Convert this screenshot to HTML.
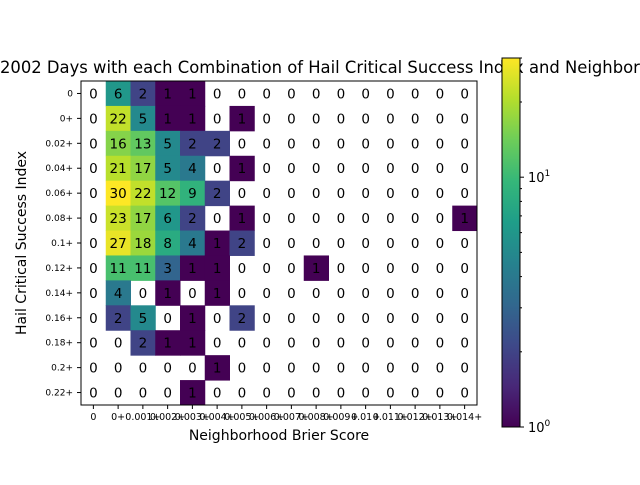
<!DOCTYPE html>
<html><head><meta charset="utf-8"><style>
html,body{margin:0;padding:0;background:#fff;overflow:hidden}
svg{font-family:"DejaVu Sans","Liberation Sans",sans-serif}
</style></head><body>
<svg id="chart" width="640" height="480" viewBox="0 0 640 480" xmlns="http://www.w3.org/2000/svg">
<text x="0" y="73" font-size="16.4" text-anchor="start">2002 Days with each Combination of Hail Critical Success Index and Neighborhood Brier Score</text>
<g id="cells"></g>
<g id="labels"></g>
<rect x="81" y="81" width="396" height="324" fill="none" stroke="#000" stroke-width="1"/>
<g id="xticks"></g>
<g id="yticks"></g>
<text x="279" y="440" font-size="14" text-anchor="middle">Neighborhood Brier Score</text>
<text transform="translate(26,243) rotate(-90)" font-size="14" text-anchor="middle">Hail Critical Success Index</text>
<defs><linearGradient id="vir" x1="0" y1="1" x2="0" y2="0"></linearGradient></defs>
<rect x="502" y="58" width="18" height="369" fill="url(#vir)" stroke="#000" stroke-width="1"/>
<g id="cbticks"></g>
</svg>
<script>
const xCategories = ["0","0+","0.001+","0.002+","0.003+","0.004+","0.005+","0.006+","0.007+","0.008+","0.009+","0.01+","0.011+","0.012+","0.013+","0.014+"];
const yCategories = ["0","0+","0.02+","0.04+","0.06+","0.08+","0.1+","0.12+","0.14+","0.16+","0.18+","0.2+","0.22+"];
const row0  = [0,6,2,1,1,0,0,0,0,0,0,0,0,0,0,0];
const row1  = [0,22,5,1,1,0,1,0,0,0,0,0,0,0,0,0];
const row2  = [0,16,13,5,2,2,0,0,0,0,0,0,0,0,0,0];
const row3  = [0,21,17,5,4,0,1,0,0,0,0,0,0,0,0,0];
const row4  = [0,30,22,12,9,2,0,0,0,0,0,0,0,0,0,0];
const row5  = [0,23,17,6,2,0,1,0,0,0,0,0,0,0,0,1];
const row6  = [0,27,18,8,4,1,2,0,0,0,0,0,0,0,0,0];
const row7  = [0,11,11,3,1,1,0,0,0,1,0,0,0,0,0,0];
const row8  = [0,4,0,1,0,1,0,0,0,0,0,0,0,0,0,0];
const row9  = [0,2,5,0,1,0,2,0,0,0,0,0,0,0,0,0];
const row10 = [0,0,2,1,1,0,0,0,0,0,0,0,0,0,0,0];
const row11 = [0,0,0,0,0,1,0,0,0,0,0,0,0,0,0,0];
const row12 = [0,0,0,0,1,0,0,0,0,0,0,0,0,0,0,0];
const rows = [row0,row1,row2,row3,row4,row5,row6,row7,row8,row9,row10,row11,row12];
const vmin = 1, vmax = 30;

const NS="http://www.w3.org/2000/svg";
const L=81,T=81,W=396,H=324;
const cw=W/xCategories.length, ch=H/yCategories.length;
const xPos=i=>L+i*cw, yPos=j=>T+j*ch;
const vir=[[68,1,84],[72,40,120],[62,73,137],[49,104,142],[38,130,142],[31,158,137],[53,183,121],[109,205,89],[180,222,44],[253,231,37]];
function cmap(t){t=Math.max(0,Math.min(1,t));const s=t*(vir.length-1),i=Math.min(vir.length-2,Math.floor(s)),f=s-i;
 const c=vir[i].map((v,k)=>Math.round(v+(vir[i+1][k]-v)*f));return `rgb(${c[0]},${c[1]},${c[2]})`;}
const norm=v=>(Math.log10(v)-Math.log10(vmin))/(Math.log10(vmax)-Math.log10(vmin));
function mk(tag,attrs,parent){const e=document.createElementNS(NS,tag);for(const k in attrs)e.setAttribute(k,attrs[k]);parent.appendChild(e);return e;}
const gC=document.getElementById('cells'),gL=document.getElementById('labels');
rows.forEach((r,j)=>r.forEach((v,i)=>{
 if(v>0){const c=mk('rect',{x:xPos(i),y:yPos(j),width:cw+0.5,height:ch+0.5,fill:cmap(norm(v))},gC);
  
  }
 const t=mk('text',{x:xPos(i)+cw/2,y:yPos(j)+ch/2+5,'font-size':'13.5','text-anchor':'middle'},gL);
 t.textContent=v;
 
 
}));
const gX=document.getElementById('xticks');
xCategories.forEach((c,i)=>{const x=xPos(i)+cw/2;
 mk('line',{x1:x,x2:x,y1:405,y2:409,stroke:'#000'},gX);
 const t=mk('text',{x:x,y:420,'font-size':'9.5','text-anchor':'middle'},gX);t.textContent=c;
 
 });
const gY=document.getElementById('yticks');
yCategories.forEach((c,j)=>{const y=yPos(j)+ch/2;
 mk('line',{x1:77,x2:81,y1:y,y2:y,stroke:'#000'},gY);
 const t=mk('text',{x:73,y:y+3,'font-size':'9','text-anchor':'end'},gY);t.textContent=c;
 
 });
const grad=document.getElementById('vir');
vir.forEach((c,k)=>mk('stop',{offset:k/(vir.length-1),'stop-color':`rgb(${c[0]},${c[1]},${c[2]})`},grad));
const gB=document.getElementById('cbticks');
const cbY=v=>427-369*norm(v);
[2,3,4,5,6,7,8,9,20,30].forEach(v=>{const y=cbY(v);mk('line',{x1:520,x2:522,y1:y,y2:y,stroke:'#000'},gB);});
[[1,'0'],[10,'1']].forEach(([v,e])=>{const y=cbY(v);mk('line',{x1:520,x2:524,y1:y,y2:y,stroke:'#000'},gB);
 const t=mk('text',{x:528,y:y+5,'font-size':'13'},gB);t.textContent='10';
 const s=mk('tspan',{dy:'-6','font-size':'9'},t);s.textContent=e;
 
 });
</script>
</body></html>
